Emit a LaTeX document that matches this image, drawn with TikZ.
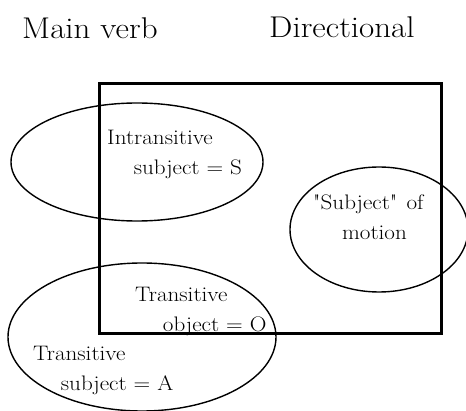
\documentclass[tikz,border=0pt]{standalone}
\usepackage{tikz}

\begin{document}
\begin{tikzpicture}[x=1pt,y=-1pt,
  ttl/.style={font=\fontsize{30}{36}\selectfont,xscale=1.1,inner sep=0pt,anchor=north west},
  lbl/.style={font=\fontsize{21}{30}\selectfont,xscale=1.1,inner sep=0pt,anchor=north west,align=left}]
\useasboundingbox (0,0) rectangle (466,411);
\draw[line width=3pt] (99,84) rectangle (441,334);
\draw[line width=1.4pt] (137,162) ellipse [x radius=126,y radius=59];
\draw[line width=1.4pt] (379,229.5) ellipse [x radius=89,y radius=62.5];
\draw[line width=1.4pt] (142,337) ellipse [x radius=134,y radius=74];
\node[ttl] (mainverb) at (22,17) {Main\ verb};
\node[ttl] (direct) at (269,16) {Directional};
\node[lbl] (intrS) at (107,130) {Intransitive\\\hspace*{1.15em}subject = S};
\node[lbl] (motion) at (313,195) {\textquotedbl Subject\textquotedbl\hspace{0.4em}of\\\hspace*{1.25em}motion};
\node[lbl] (trO) at (135,287) {Transitive\\\hspace*{1.2em}object = O};
\node[lbl] (trA) at (33,346) {Transitive\\\hspace*{1.2em}subject = A};
\end{tikzpicture}
\end{document}
